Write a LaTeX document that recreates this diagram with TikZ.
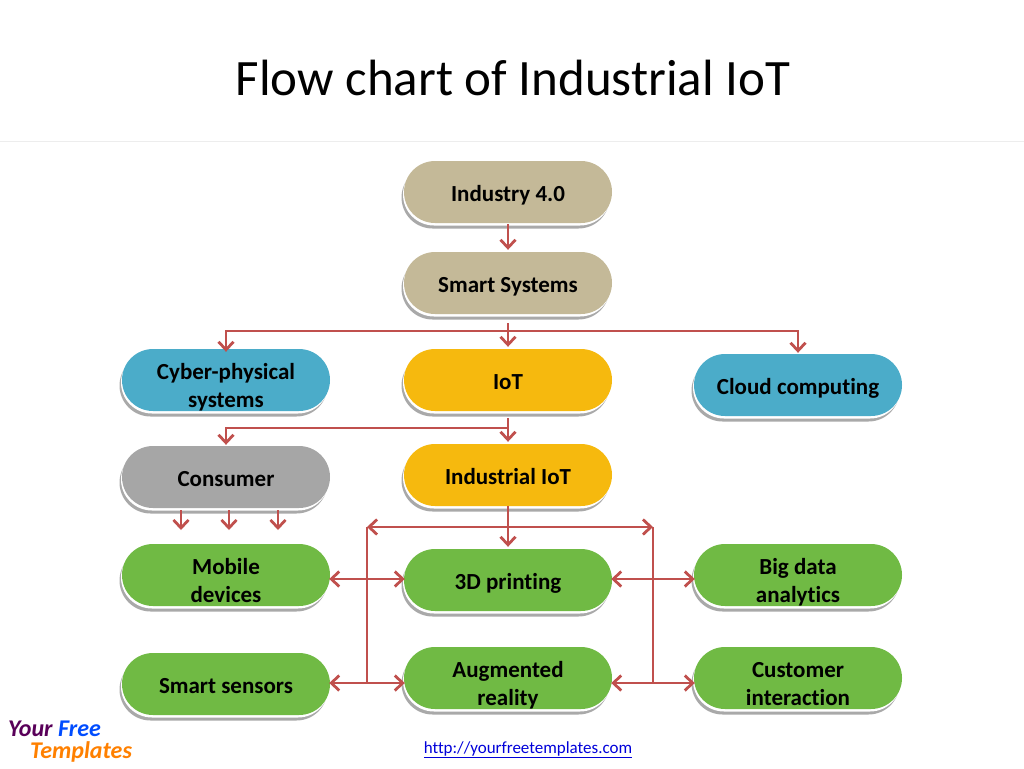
\documentclass[tikz,border=0pt]{standalone}
\usepackage{fontspec}
\setmainfont[Ligatures=NoCommon]{Carlito}
\usetikzlibrary{arrows.meta,shapes.misc,shadows}
\definecolor{tanbox}{HTML}{C4B998}
\definecolor{bluebox}{HTML}{4BACC9}
\definecolor{yellowbox}{HTML}{F6B90E}
\definecolor{graybox}{HTML}{A6A6A6}
\definecolor{greenbox}{HTML}{70BA44}
\definecolor{flowred}{HTML}{C0504D}
\definecolor{rimgray}{HTML}{A9A9A9}
\tikzset{
	pill/.style={rounded rectangle,minimum width=208pt,minimum height=62pt,inner sep=0pt,align=center,
		font=\fontsize{23}{27.5}\selectfont\bfseries,
		execute at begin node={\rule{0pt}{22pt}},
		execute at end node={\rule[-4pt]{0pt}{4pt}},
		general shadow={fill=rimgray,shadow xshift=-2.5pt,shadow yshift=-5.5pt},
		general shadow={fill=white,shadow xshift=-1pt,shadow yshift=-2.5pt}},
	pilltwo/.style={pill,execute at begin node={\rule{0pt}{58pt}}},
	flow/.style={draw=flowred,line width=2.8pt,>={Straight Barb[length=8pt,width=15pt,line width=2.8pt]}},
}
\begin{document}
\begin{tikzpicture}[x=1pt,y=-1pt]
	\useasboundingbox (0,0) rectangle (1024,768);
	\node (title) at (513,78) {\fontsize{51}{58}\selectfont Flow chart of Industrial IoT};
	\draw[black!7,line width=1pt] (0,141)--(1024,141);
	\node[pill,fill=tanbox] (industry) at (508,192) {Industry 4.0};
	\node[pill,fill=tanbox] (smart) at (508,283) {Smart Systems};
	\node[pilltwo,fill=bluebox] (cyber) at (226,380) {Cyber-physical\\systems};
	\node[pill,fill=yellowbox] (iot) at (508,380) {IoT};
	\node[pill,fill=bluebox] (cloud) at (798,385) {Cloud computing};
	\node[pill,fill=graybox] (consumer) at (226,477) {Consumer};
	\node[pill,fill=yellowbox] (indiot) at (508,475) {Industrial IoT};
	\node[pilltwo,fill=greenbox] (mobile) at (226,575) {Mobile\\devices};
	\node[pill,fill=greenbox] (printing) at (508,580) {3D printing};
	\node[pilltwo,fill=greenbox] (bigdata) at (798,575) {Big data\\analytics};
	\node[pill,fill=greenbox] (sensors) at (226,684) {Smart sensors};
	\node[pilltwo,fill=greenbox] (augmented) at (508,678) {Augmented\\reality};
	\node[pilltwo,fill=greenbox] (customer) at (798,678) {Customer\\interaction};
	% junctions
	\coordinate (topbus) at (508,331);
	\coordinate (iotbus) at (508,428);
	\coordinate (leftbus) at (367,527);
	\coordinate (rightbus) at (653,527);
	\coordinate (leftup) at (367,579);
	\coordinate (rightup) at (653,579);
	\coordinate (leftlow) at (367,683);
	\coordinate (rightlow) at (653,683);
	\coordinate (consa) at (181,510);
	\coordinate (consb) at (229,510);
	\coordinate (consc) at (278,510);
	\coordinate (tipa) at (181,530);
	\coordinate (tipb) at (229,530);
	\coordinate (tipc) at (278,530);
	% connectors
	\draw[flow,->,shorten <=1pt,shorten >=2pt] (industry.south)--(smart.north);
	\draw[flow,->,shorten <=9pt,shorten >=2pt] (smart.south)--(iot.north);
	\draw[flow,->,shorten >=-3pt] (topbus)-|(cyber.north);
	\draw[flow,->,shorten >=1pt] (topbus)-|(cloud.north);
	\draw[flow,->,shorten <=7pt,shorten >=2pt] (iot.south)--(indiot.north);
	\draw[flow,->,shorten >=1pt] (iotbus)-|(consumer.north);
	\draw[flow,->] (consa)--(tipa);
	\draw[flow,->] (consb)--(tipb);
	\draw[flow,->] (consc)--(tipc);
	\draw[flow,->,shorten >=2pt] (indiot.south)--(printing.north);
	\draw[flow,<->] (leftbus)--(rightbus);
	\draw[flow] (leftbus)--(leftlow);
	\draw[flow] (rightbus)--(rightlow);
	\draw[flow,<->,shorten <=-1pt,shorten >=-1pt] (mobile.east |- leftup)--(printing.west |- leftup);
	\draw[flow,<->,shorten <=-1pt,shorten >=-1pt] (printing.east |- rightup)--(bigdata.west |- rightup);
	\draw[flow,<->,shorten <=-1pt,shorten >=-1pt] (sensors.east |- leftlow)--(augmented.west |- leftlow);
	\draw[flow,<->,shorten <=-1pt,shorten >=-1pt] (augmented.east |- rightlow)--(customer.west |- rightlow);
	% footer
	\node (url) at (528,749.5) {\fontsize{17}{20}\selectfont\color{blue!85!black}\underline{http://yourfreetemplates.com}};
	\node[anchor=west,inner sep=0pt,align=left,font=\fontsize{24}{21.5}\selectfont\bfseries\itshape] (logo) at (8,741.5)
		{\color{violet!70!black}Your \color{blue!70!cyan}Free\\\hspace*{22pt}\color{orange}Templates};
\end{tikzpicture}
\end{document}
